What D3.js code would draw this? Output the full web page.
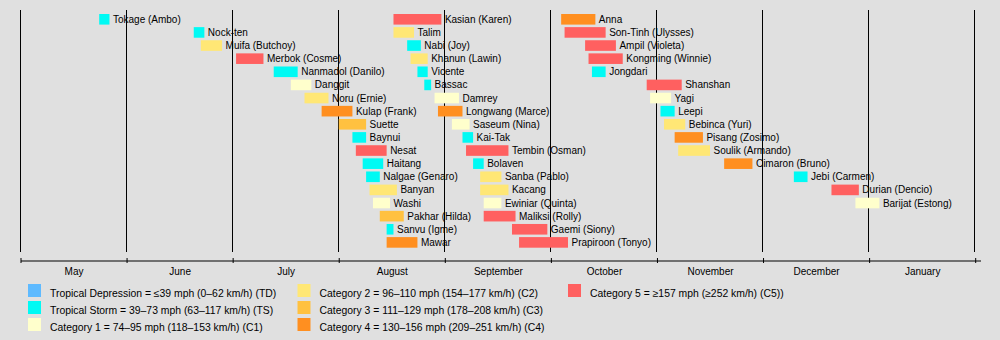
<!DOCTYPE html>
<html>
<head>
<meta charset="utf-8">
<script src="https://cdn.jsdelivr.net/npm/d3@7"></script>
<style>
  html, body { margin: 0; padding: 0; background: #e0e0e0; }
  svg { display: block; font-family: "Liberation Sans", Arial, Helvetica, sans-serif; }
</style>
</head>
<body>
<svg id="chart" width="1000" height="340"></svg>
<script>
// Season months shown along the axis (May through January)
const monthLabels = ["May", "June", "July", "August", "September", "October", "November", "December", "January"];
const monthNumbers = [5, 6, 7, 8, 9, 10, 11, 12, 1];
const monthYears = [2018, 2018, 2018, 2018, 2018, 2018, 2018, 2018, 2019];

// Storms: name, lifespan (start inclusive, end exclusive, "MM-DD"), peak category, lane
const stormNames = [
  "Tokage (Ambo)", "Nock-ten", "Muifa (Butchoy)", "Merbok (Cosme)", "Nanmadol (Danilo)", "Danggit",
  "Noru (Ernie)", "Kulap (Frank)", "Suette", "Baynui", "Nesat", "Haitang", "Nalgae (Genaro)", "Banyan",
  "Washi", "Pakhar (Hilda)", "Sanvu (Igme)", "Mawar",
  "Kasian (Karen)", "Talim", "Nabi (Joy)", "Khanun (Lawin)", "Vicente", "Bassac", "Damrey",
  "Longwang (Marce)", "Saseum (Nina)", "Kai-Tak", "Tembin (Osman)", "Bolaven", "Sanba (Pablo)", "Kacang",
  "Ewiniar (Quinta)", "Maliksi (Rolly)", "Gaemi (Siony)", "Prapiroon (Tonyo)",
  "Anna", "Son-Tinh (Ulysses)", "Ampil (Violeta)", "Kongming (Winnie)", "Jongdari", "Shanshan", "Yagi",
  "Leepi", "Bebinca (Yuri)", "Pisang (Zosimo)", "Soulik (Armando)", "Cimaron (Bruno)", "Jebi (Carmen)",
  "Durian (Dencio)", "Barijat (Estong)"
];
const stormStart = [
  "05-24", "06-20", "06-22", "07-02", "07-13", "07-18", "07-22", "07-27", "08-01", "08-05", "08-06", "08-08",
  "08-09", "08-10", "08-11", "08-13", "08-15", "08-15",
  "08-17", "08-17", "08-21", "08-22", "08-24", "08-26", "08-29", "08-30", "09-03", "09-06", "09-07", "09-09",
  "09-11", "09-11", "09-12", "09-12", "09-20", "09-22",
  "10-04", "10-05", "10-11", "10-12", "10-13", "10-29", "10-30", "11-02", "11-03", "11-06", "11-07", "11-20",
  "12-10", "12-21", "12-28"
];
const stormEnd = [
  "05-27", "06-23", "06-28", "07-10", "07-20", "07-24", "07-29", "08-05", "08-09", "08-09", "08-15", "08-14",
  "08-13", "08-18", "08-16", "08-20", "08-17", "08-24",
  "08-31", "08-23", "08-25", "08-27", "08-27", "08-28", "09-05", "09-06", "09-08", "09-09", "09-19", "09-12",
  "09-17", "09-19", "09-17", "09-21", "09-30", "10-06",
  "10-14", "10-17", "10-20", "10-22", "10-17", "11-08", "11-05", "11-06", "11-09", "11-14", "11-16", "11-28",
  "12-14", "12-29", "01-04"
];
const stormCategory = [
  "TS", "TS", "C2", "C5", "TS", "C1", "C2", "C4", "C3", "TS", "C5", "TS", "TS", "C2", "C1", "C3", "TS", "C4",
  "C5", "C2", "TS", "C2", "TS", "TS", "C1", "C4", "C1", "TS", "C5", "TS", "C2", "C2", "C1", "C5", "C5", "C5",
  "C4", "C5", "C5", "C5", "TS", "C5", "C1", "TS", "C2", "C4", "C2", "C4", "TS", "C5", "C1"
];
const stormLane = [
  0, 1, 2, 3, 4, 5, 6, 7, 8, 9, 10, 11, 12, 13, 14, 15, 16, 17,
  0, 1, 2, 3, 4, 5, 6, 7, 8, 9, 10, 11, 12, 13, 14, 15, 16, 17,
  0, 1, 2, 3, 4, 5, 6, 7, 8, 9, 10, 11, 12, 13, 14
];

// Saffir–Simpson legend
const categoryKeys = ["TD", "TS", "C1", "C2", "C3", "C4", "C5"];
const categoryColors = ["#5ebaff", "#00faf4", "#ffffcc", "#ffe775", "#ffc140", "#ff8f20", "#ff6060"];
const categoryLabels = [
  "Tropical Depression = \u226439 mph (0\u201362 km/h) (TD)",
  "Tropical Storm = 39\u201373 mph (63\u2013117 km/h) (TS)",
  "Category 1 = 74\u201395 mph (118\u2013153 km/h) (C1)",
  "Category 2 = 96\u2013110 mph (154\u2013177 km/h) (C2)",
  "Category 3 = 111\u2013129 mph (178\u2013208 km/h) (C3)",
  "Category 4 = 130\u2013156 mph (209\u2013251 km/h) (C4)",
  "Category 5 = \u2265157 mph (\u2265252 km/h) (C5))"
];

const svg = d3.select("#chart");
const W = 1000, H = 340;

svg.append("rect").attr("width", W).attr("height", H).attr("fill", "#e0e0e0");

// Convert "MM-DD" to a fractional month position (0 = start of May)
function monthPos(s) {
  const [mm, dd] = s.split("-").map(Number);
  const i = monthNumbers.indexOf(mm);
  const first = new Date(monthYears[i], mm - 1, 1);
  const days = d3.timeDay.count(first, d3.timeMonth.offset(first, 1));
  return i + (dd - 1) / days;
}

// Each month gets an equal slice; the plot runs slightly past the last boundary
const x = d3.scaleLinear().domain([0, 9.05]).range([20.5, 980.5]);
const lane = d3.scaleLinear().domain([0, 17]).range([19.3, 242.4]);
const color = d3.scaleOrdinal().domain(categoryKeys).range(categoryColors);
const barH = 10.6;

// Month grid lines
svg.append("g")
  .selectAll("line")
  .data(d3.range(monthLabels.length + 1))
  .join("line")
  .attr("x1", d => Math.round(x(d)) - 0.5)
  .attr("x2", d => Math.round(x(d)) - 0.5)
  .attr("y1", 10)
  .attr("y2", 252)
  .attr("stroke", "#000")
  .attr("stroke-width", 1);

// Storm bars
const storms = stormNames.map((n, i) => ({
  name: n,
  s: monthPos(stormStart[i]),
  e: monthPos(stormEnd[i]),
  cat: stormCategory[i],
  lane: stormLane[i]
}));

svg.append("g")
  .selectAll("rect")
  .data(storms)
  .join("rect")
  .attr("x", d => x(d.s))
  .attr("width", d => x(d.e) - x(d.s))
  .attr("y", d => lane(d.lane) - barH / 2)
  .attr("height", barH)
  .attr("fill", d => color(d.cat));

// Storm names beside each bar
svg.append("g")
  .selectAll("text")
  .data(storms)
  .join("text")
  .attr("x", d => x(d.e) + 3.5)
  .attr("y", d => lane(d.lane))
  .attr("dy", "0.35em")
  .attr("font-size", 10)
  .attr("fill", "#000")
  .text(d => d.name);

// Time axis with month boundary ticks
const axisG = svg.append("g")
  .attr("transform", "translate(0,260.5)")
  .call(d3.axisBottom(x).tickValues(d3.range(monthLabels.length + 1)).tickFormat("").tickSizeOuter(0).tickSizeInner(3));
axisG.select(".domain").attr("stroke", "#000");
axisG.selectAll(".tick line").attr("y1", -2.5).attr("y2", 2.5).attr("stroke", "#000");

// Month names centred in each slice
const labelG = svg.append("g")
  .attr("transform", "translate(0,265)")
  .call(d3.axisBottom(x).tickValues(d3.range(monthLabels.length).map(i => i + 0.5))
    .tickFormat((d, i) => monthLabels[i]).tickSize(0).tickPadding(3));
labelG.select(".domain").remove();
labelG.selectAll("text").attr("font-size", 10).attr("fill", "#000")
  .attr("font-family", "'Liberation Sans', Arial, Helvetica, sans-serif");

// Legend
const legendCol = [28, 297.5, 568];
const legendRow = [284, 301, 318];
const legendPos = [[0, 0], [0, 1], [0, 2], [1, 0], [1, 1], [1, 2], [2, 0]];
const legend = svg.append("g")
  .selectAll("g")
  .data(categoryKeys)
  .join("g")
  .attr("transform", (d, i) => `translate(${legendCol[legendPos[i][0]]},${legendRow[legendPos[i][1]]})`);
legend.append("rect")
  .attr("width", 13).attr("height", 13)
  .attr("fill", d => color(d));
legend.append("text")
  .attr("x", 22).attr("y", 9).attr("dy", "0.35em")
  .attr("font-size", 10.4).attr("fill", "#000")
  .text((d, i) => categoryLabels[i]);
</script>
</body>
</html>
